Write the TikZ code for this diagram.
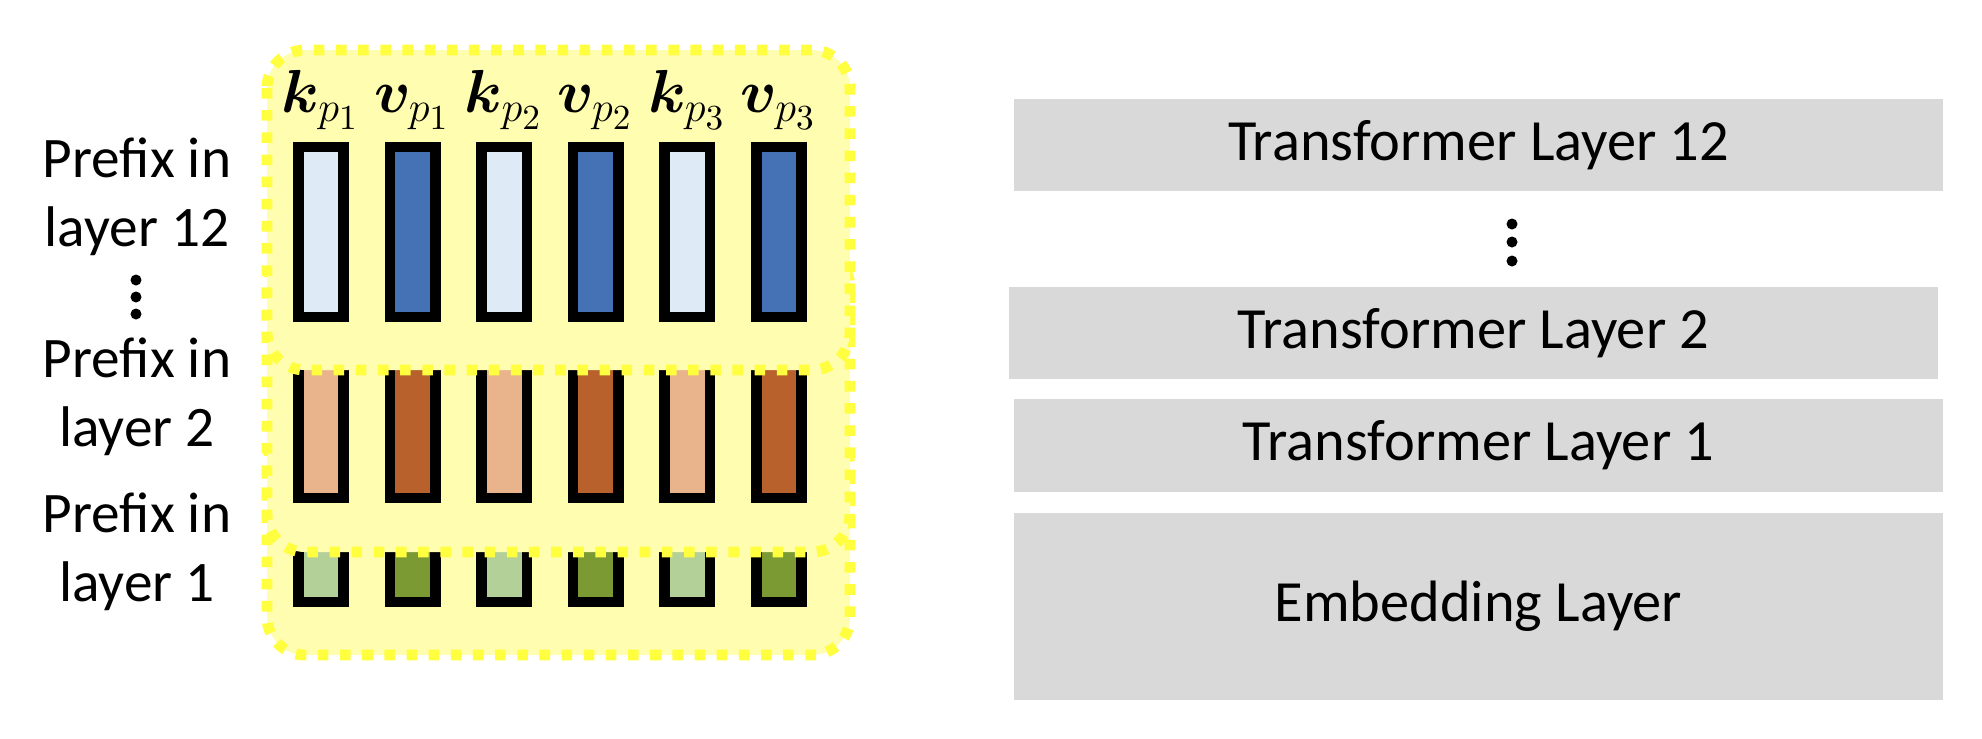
\documentclass[tikz,border=0pt]{standalone}
\usepackage{bm}
\usepackage{fontspec}
\setmainfont{Carlito}
\usetikzlibrary{positioning}
\definecolor{keyblue}{HTML}{DEEBF7}
\definecolor{valblue}{HTML}{4472B4}
\definecolor{keyorange}{HTML}{E9B48B}
\definecolor{valorange}{HTML}{B8612C}
\definecolor{keygreen}{HTML}{B2D097}
\definecolor{valgreen}{HTML}{7B9A33}
\definecolor{prefixfill}{HTML}{FFFDB0}
\definecolor{prefixdot}{HTML}{FFFF40}
\definecolor{layergray}{HTML}{D9D9D9}

\begin{document}
\begin{tikzpicture}[
    x=0.01cm, y=-0.01cm,
    layerbox/.style={fill=layergray, inner sep=0pt, minimum width=9.29cm, minimum height=0.92cm,
                     font=\fontsize{16.6}{20}\selectfont},
    prefixlab/.style={align=center, inner sep=0pt, anchor=base, font=\fontsize{16.3}{19.6}\selectfont},
    group/.style={fill=prefixfill, draw=prefixdot, line width=3.1pt,
                  dash pattern=on 3pt off 3.3pt, rounded corners=0.38cm},
    bar/.style={draw=black, line width=3pt},
    kvlab/.style={inner sep=0pt, anchor=base, font=\fontsize{17.28}{20}\selectfont},
]
\useasboundingbox (0,0) rectangle (1982,738);

% Prefix groups, bottom first
\draw[group] (267,430) rectangle (850,655);
\foreach \i/\c in {0/keygreen,1/valgreen,2/keygreen,3/valgreen,4/keygreen,5/valgreen}
    \draw[bar, fill=\c] ({298.25+91.6*\i},520) rectangle ++(45.5,82);

\draw[group] (267,250) rectangle (850,552);
\foreach \i/\c in {0/keyorange,1/valorange,2/keyorange,3/valorange,4/keyorange,5/valorange}
    \draw[bar, fill=\c] ({298.25+91.6*\i},340) rectangle ++(45.5,158);

\draw[group] (267,50) rectangle (850,370);
\foreach \i/\c in {0/keyblue,1/valblue,2/keyblue,3/valblue,4/keyblue,5/valblue}
    \draw[bar, fill=\c] ({298.25+91.6*\i},147) rectangle ++(45.5,170);

% Key / value labels
\node[kvlab] (k1) at (321,112) {$\bm{k}_{p_1}$};
\node[kvlab] (v1) at (412.6,112) {$\bm{v}_{p_1}$};
\node[kvlab] (k2) at (504.2,112) {$\bm{k}_{p_2}$};
\node[kvlab] (v2) at (595.8,112) {$\bm{v}_{p_2}$};
\node[kvlab] (k3) at (687.4,112) {$\bm{k}_{p_3}$};
\node[kvlab] (v3) at (779,112) {$\bm{v}_{p_3}$};

% Prefix labels (base is the second line)
\node[prefixlab] (pre12) at (137,246) {Prefix in\\layer 12};
\node[prefixlab] (pre2) at (137,446) {Prefix in\\layer 2};
\node[prefixlab] (pre1) at (137,601) {Prefix in\\layer 1};
\foreach \y in {280,297,314}
    \fill (136,\y) circle (0.055cm);

% Transformer stack
\node[layerbox] (tl2) at (1473.5,333) {Transformer Layer 2};
\node[layerbox, above=0.95cm of tl2, xshift=0.05cm, minimum height=0.91cm] (tl12) {Transformer Layer 12};
\node[layerbox, below=0.19cm of tl2, xshift=0.05cm] (tl1) {Transformer Layer 1};
\node[layerbox, below=0.2cm of tl1, minimum height=1.87cm] (emb) {Embedding Layer};
\foreach \y in {224,242,261}
    \fill (1512,\y) circle (0.055cm);

\end{tikzpicture}
\end{document}
